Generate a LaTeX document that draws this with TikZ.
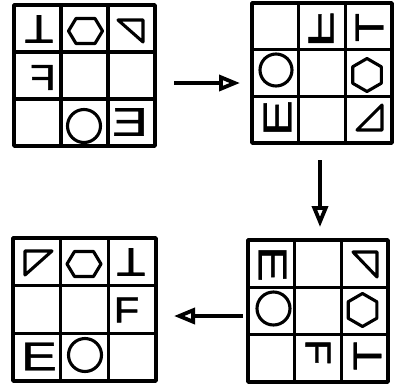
\documentclass[tikz,border=0pt]{standalone}
\usepackage{fontspec}
\setmainfont{Liberation Sans}
\newfontfamily\glyphfont[FakeBold=1]{Liberation Sans}
\usepackage{graphicx}
\usetikzlibrary{arrows.meta,calc}
\tikzset{
  gridframe/.style={draw, line width=3.4pt, inner sep=0pt, outer sep=0pt, line join=round},
  gridline/.style={line width=3.4pt},
  shapeline/.style={line width=3.1pt, line join=round},
  glyph/.style={inner sep=0pt, outer sep=0pt},
  flowarrow/.style={line width=3.8pt, -{Triangle[open, length=21pt, width=16pt]}},
}
\newcommand{\puzgrid}[5]{%
  \node[gridframe, minimum width=#4pt, minimum height=#5pt, anchor=north west] (#1) at (#2,#3) {};
  \draw[gridline] ($(#1.north west)!1/3!(#1.north east)$) -- ($(#1.south west)!1/3!(#1.south east)$);
  \draw[gridline] ($(#1.north west)!2/3!(#1.north east)$) -- ($(#1.south west)!2/3!(#1.south east)$);
  \draw[gridline] ($(#1.north west)!1/3!(#1.south west)$) -- ($(#1.north east)!1/3!(#1.south east)$);
  \draw[gridline] ($(#1.north west)!2/3!(#1.south west)$) -- ($(#1.north east)!2/3!(#1.south east)$);
}
\newcommand{\hexflat}[2]{\draw[shapeline] (#1,#2) ++(-17,0) -- ++(7.5,-12.5) -- ++(19,0) -- ++(7.5,12.5) -- ++(-7.5,12.5) -- ++(-19,0) -- cycle;}
\newcommand{\hexpointy}[2]{\draw[shapeline] (#1,#2) ++(0,-16.5) -- ++(14.3,8.25) -- ++(0,16.5) -- ++(-14.3,8.25) -- ++(-14.3,-8.25) -- ++(0,-16.5) -- cycle;}
\newcommand{\lT}{\scalebox{1.18}[1]{\glyphfont\fontsize{40}{40}\selectfont T}}
\newcommand{\lF}{\scalebox{1.16}[1]{\glyphfont\fontsize{36}{36}\selectfont F}}
\newcommand{\lFwide}{\scalebox{1.65}[1]{\glyphfont\fontsize{36}{36}\selectfont F}}
\newcommand{\lE}{\scalebox{1.35}[1]{\glyphfont\fontsize{40}{40}\selectfont E}}
\begin{document}
\begin{tikzpicture}[x=1pt,y=-1pt]
\useasboundingbox (0,0) rectangle (394,389);
% grids
\puzgrid{g1}{14}{5}{141}{141}
\puzgrid{g2}{252}{3}{140}{140}
\puzgrid{g3}{13}{238}{143}{143}
\puzgrid{g4}{248}{240}{140}{142}
% grid 1
\node[glyph] (g1a) at (39,29) {\rotatebox{180}{\lT}};
\hexflat{85.5}{31}
\draw[shapeline] (118,20) -- (143,20) -- (143,42) -- cycle;
\node[glyph] (g1d) at (43,77.5) {\reflectbox{\lF}};
\draw[shapeline] (84,126) circle[radius=16.5];
\node[glyph] (g1f) at (130,122) {\reflectbox{\lE}};
% grid 2
\node[glyph] (g2a) at (321,29.5) {\reflectbox{\rotatebox{90}{\lFwide}}};
\node[glyph] (g2b) at (369.5,27.5) {\rotatebox{90}{\lT}};
\draw[shapeline] (276,70) circle[radius=16];
\hexpointy{367}{75}
\node[glyph] (g2e) at (277.5,118) {\rotatebox{90}{\lE}};
\draw[shapeline] (357,130) -- (382,130) -- (382,105) -- cycle;
% grid 3
\draw[shapeline] (25,251) -- (52,251) -- (25,275) -- cycle;
\hexflat{84}{264}
\node[glyph] (g3c) at (131,262) {\rotatebox{180}{\lT}};
\node[glyph] (g3d) at (126.5,310) {\lF};
\node[glyph] (g3e) at (39,356.5) {\lE};
\draw[shapeline] (85,355) circle[radius=16.5];
% grid 4
\node[glyph] (g4a) at (272.5,264) {\rotatebox{-90}{\lE}};
\draw[shapeline] (353,252) -- (377,252) -- (377,277) -- cycle;
\draw[shapeline] (273.5,308.5) circle[radius=16.5];
\hexpointy{362.5}{310}
\node[glyph] (g4e) at (318,352) {\rotatebox{-90}{\lF}};
\node[glyph] (g4f) at (367.5,356) {\rotatebox{90}{\lT}};
% arrows
\coordinate (a1s) at (174,83);
\coordinate (a1e) at (240,83);
\coordinate (a2s) at (320,160);
\coordinate (a2e) at (320,227);
\coordinate (a3s) at (243,316);
\coordinate (a3e) at (174,316);
\draw[flowarrow] (a1s) -- (a1e);
\draw[flowarrow] (a2s) -- (a2e);
\draw[flowarrow] (a3s) -- (a3e);
\end{tikzpicture}
\end{document}
